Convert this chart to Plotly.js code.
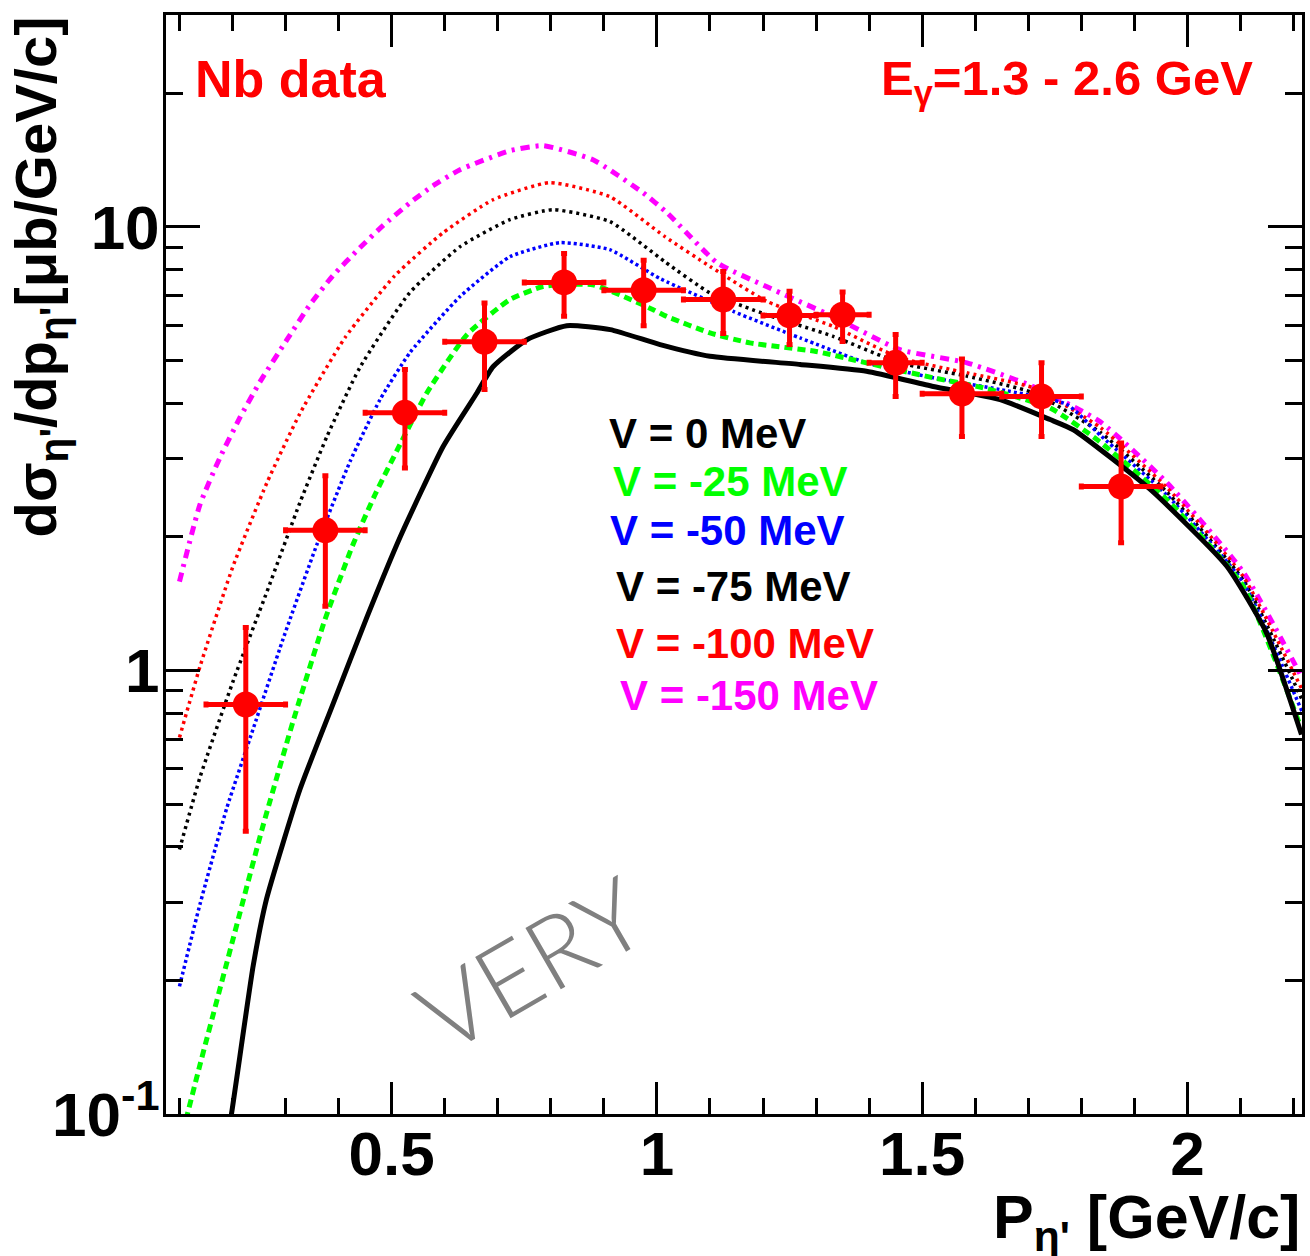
<!DOCTYPE html>
<html>
<head>
<meta charset="utf-8">
<script src="https://cdn.plot.ly/plotly-3.0.1.min.js"></script>
<style>html,body{margin:0;padding:0;background:#fff}</style>
</head>
<body>
<div id="plot" style="width:1310px;height:1256px"></div>
<script>
// eta' momentum distribution off Nb, E_gamma = 1.3 - 2.6 GeV
const pBinCenter    = [0.225, 0.375, 0.525, 0.675, 0.825, 0.975, 1.125, 1.25, 1.35, 1.45, 1.575, 1.725, 1.875];
const pBinHalfWidth = [0.075, 0.075, 0.075, 0.075, 0.075, 0.075, 0.075, 0.05, 0.05, 0.05, 0.075, 0.075, 0.075];
const dSigma        = [0.838, 2.07, 3.81, 5.51, 7.50, 7.20, 6.86, 6.32, 6.34, 4.94, 4.21, 4.15, 2.60];
const dSigmaHigh    = [1.25, 2.75, 4.77, 6.74, 8.71, 8.41, 7.94, 7.16, 7.14, 5.72, 5.04, 4.94, 3.26];
const dSigmaLow     = [0.434, 1.396, 2.86, 4.30, 6.29, 5.99, 5.75, 5.43, 5.52, 4.15, 3.37, 3.37, 1.94];

// model predictions for several real-part potential depths
const pV0   = [0.186, 0.198, 0.239, 0.264, 0.327, 0.389, 0.453, 0.516, 0.597, 0.661, 0.691, 0.755, 0.830, 0.912, 1.006, 1.10, 1.27, 1.395, 1.521, 1.647, 1.741, 1.785, 1.93, 2.074, 2.149, 2.215];
const sigV0 = [0.083, 0.10, 0.216, 0.305, 0.539, 0.838, 1.316, 2.00, 3.20, 4.23, 4.84, 5.57, 5.99, 5.87, 5.43, 5.11, 4.90, 4.73, 4.37, 4.08, 3.68, 3.49, 2.56, 1.72, 1.216, 0.717];

const pV25   = [0.10, 0.1386, 0.2008, 0.2555, 0.314, 0.3743, 0.4271, 0.4685, 0.5156, 0.5665, 0.642, 0.723, 0.785, 0.879, 0.993, 1.018, 1.10, 1.175, 1.30, 1.395, 1.521, 1.615, 1.741, 1.829, 1.961, 2.105, 2.213];
const sigV25 = [0.085, 0.129, 0.2475, 0.438, 0.767, 1.303, 1.923, 2.49, 3.23, 4.23, 5.72, 6.86, 7.34, 7.41, 6.51, 6.29, 5.77, 5.48, 5.24, 4.94, 4.57, 4.34, 3.91, 3.32, 2.43, 1.55, 0.749];

const pV50   = [0.10, 0.1386, 0.1895, 0.2385, 0.295, 0.359, 0.4215, 0.478, 0.5345, 0.629, 0.723, 0.817, 0.911, 1.006, 1.144, 1.27, 1.395, 1.521, 1.647, 1.773, 1.836, 1.962, 2.105, 2.216];
const sigV50 = [0.194, 0.297, 0.491, 0.736, 1.175, 1.923, 2.96, 4.08, 5.21, 6.97, 8.57, 9.22, 8.89, 7.65, 6.45, 5.62, 4.94, 4.57, 4.30, 3.98, 3.39, 2.48, 1.58, 0.808];

const pV75   = [0.10, 0.1386, 0.2008, 0.265, 0.327, 0.378, 0.44, 0.534, 0.629, 0.723, 0.804, 0.911, 1.015, 1.10, 1.207, 1.332, 1.458, 1.584, 1.709, 1.836, 1.962, 2.105, 2.216];
const sigV75 = [0.395, 0.574, 0.944, 1.507, 2.39, 3.37, 4.82, 7.11, 9.03, 10.39, 10.94, 10.29, 8.35, 7.10, 6.34, 5.67, 4.94, 4.61, 4.23, 3.44, 2.52, 1.60, 0.86];

const pV100   = [0.10, 0.1386, 0.2008, 0.265, 0.327, 0.412, 0.506, 0.597, 0.691, 0.798, 0.911, 1.015, 1.10, 1.207, 1.332, 1.458, 1.584, 1.709, 1.836, 1.962, 2.105, 2.216];
const sigV100 = [0.706, 1.02, 1.716, 2.653, 3.796, 5.63, 7.77, 9.71, 11.52, 12.59, 11.71, 9.51, 8.15, 6.80, 5.97, 5.07, 4.69, 4.34, 3.53, 2.58, 1.63, 0.906];

const pV150   = [0.10, 0.1386, 0.1763, 0.2141, 0.252, 0.3026, 0.346, 0.3893, 0.44, 0.4836, 0.5345, 0.5779, 0.6288, 0.7231, 0.7852, 0.8795, 0.9737, 1.019, 1.1132, 1.2075, 1.3319, 1.4582, 1.5845, 1.7089, 1.8352, 1.9615, 2.1047, 2.2159];
const sigV150 = [1.587, 2.366, 3.02, 3.72, 4.48, 5.57, 6.68, 7.77, 8.98, 10.07, 11.34, 12.39, 13.46, 14.86, 15.25, 14.18, 11.95, 10.77, 8.31, 7.33, 6.28, 5.29, 4.94, 4.37, 3.64, 2.65, 1.67, 0.964];

const legendLabels = ['V = 0 MeV', 'V = -25 MeV', 'V = -50 MeV', 'V = -75 MeV', 'V = -100 MeV', 'V = -150 MeV'];
const legendColors = ['#000000', '#00ff00', '#0000ff', '#000000', '#ff0000', '#ff00ff'];

// axis ticks
const xMajorTicks = [0.5, 1, 1.5, 2];
const xMinorTicks = [0.1, 0.2, 0.3, 0.4, 0.6, 0.7, 0.8, 0.9, 1.1, 1.2, 1.3, 1.4, 1.6, 1.7, 1.8, 1.9, 2.1, 2.2];
const yMajorTicks = [0.1, 1, 10];
const yMajorText  = ['10<sup>-1</sup>', '1', '10'];
const yMinorTicks = [0.2, 0.3, 0.4, 0.5, 0.6, 0.7, 0.8, 0.9, 2, 3, 4, 5, 6, 7, 8, 9, 20, 30];

const FONT = 'Liberation Sans, Arial, Helvetica, sans-serif';

function curve(x, y, color, width, dash) {
  return {
    x: x, y: y, type: 'scatter', mode: 'lines',
    line: {color: color, width: width, dash: dash, shape: 'spline', smoothing: 0.5},
    hoverinfo: 'skip', showlegend: false
  };
}

const traces = [
  curve(pV150, sigV150, '#ff00ff', 5, '9px,6px,3px,6px'),
  curve(pV100, sigV100, '#ff0000', 3.5, '3px,4px'),
  curve(pV75,  sigV75,  '#000000', 3.5, '3px,4px'),
  curve(pV50,  sigV50,  '#0000ff', 3.5, '3px,3px'),
  curve(pV25,  sigV25,  '#00ff00', 5, '8px,5px'),
  curve(pV0,   sigV0,   '#000000', 5, 'solid'),
  {
    x: pBinCenter, y: dSigma, type: 'scatter', mode: 'markers',
    marker: {symbol: 'circle', size: 26, color: '#ff0000', line: {width: 0}},
    error_x: {type: 'data', array: pBinHalfWidth, color: '#ff0000', thickness: 5, width: 3},
    error_y: {
      type: 'data', symmetric: false,
      array: dSigma.map((v, i) => dSigmaHigh[i] - v),
      arrayminus: dSigma.map((v, i) => v - dSigmaLow[i]),
      color: '#ff0000', thickness: 5, width: 3
    },
    showlegend: false
  }
];

// plot-area geometry in pixels (used to place text in paper coordinates)
const W = 1310, H = 1256, L = 166, R = 8, T = 15, B = 142;
const pw = W - L - R, ph = H - T - B;
const px = v => (v - L) / pw;
const py = v => (H - B - v) / ph;

const legendLeft = [607, 611, 608, 614, 614, 618];
const legendTop  = [408, 456, 505, 561, 618, 670];

const annotations = legendLabels.map((t, i) => ({
  text: t, xref: 'paper', yref: 'paper', x: px(legendLeft[i]), y: py(legendTop[i]),
  xanchor: 'left', yanchor: 'top', showarrow: false,
  font: {family: FONT, size: 42, color: legendColors[i], weight: 700}
}));

annotations.push(
  {text: 'Nb data', xref: 'paper', yref: 'paper', x: px(193), y: py(48),
   xanchor: 'left', yanchor: 'top', showarrow: false,
   font: {family: FONT, size: 52, color: '#ff0000', weight: 700}},
  {text: 'E<sub>γ</sub>=1.3 - 2.6 GeV', xref: 'paper', yref: 'paper', x: px(1255), y: py(49),
   xanchor: 'right', yanchor: 'top', showarrow: false,
   font: {family: FONT, size: 49, color: '#ff0000', weight: 700}},
  {text: 'P<sub>η\'</sub> [GeV/c]', xref: 'paper', yref: 'paper', x: 1.0, y: py(1181),
   xanchor: 'right', yanchor: 'top', showarrow: false,
   font: {family: FONT, size: 61, color: '#000000', weight: 700}},
  {text: 'dσ<sub>η\'</sub>/dp<sub>η\'</sub>[μb/GeV/c]', xref: 'paper', yref: 'paper',
   x: px(0), y: py(15), xanchor: 'left', yanchor: 'top', textangle: -90, showarrow: false,
   font: {family: FONT, size: 58, color: '#000000', weight: 700}},
  {text: 'VERY', xref: 'paper', yref: 'paper', x: px(530), y: py(962),
   xanchor: 'center', yanchor: 'middle', textangle: -30, showarrow: false,
   font: {family: 'Lato, Open Sans, sans-serif', size: 100, color: '#808080', weight: 300}}
);

const layout = {
  width: W, height: H,
  margin: {l: L, r: R, t: T, b: B, pad: 0},
  paper_bgcolor: '#ffffff', plot_bgcolor: '#ffffff',
  showlegend: false,
  xaxis: {
    type: 'linear', range: [0.0746, 2.216],
    showgrid: false, zeroline: false,
    showline: true, linecolor: '#000', linewidth: 3, mirror: 'ticks',
    ticks: 'inside', ticklen: 32, tickwidth: 3, tickcolor: '#000',
    tickmode: 'array', tickvals: xMajorTicks, ticklabelstandoff: -16,
    tickfont: {family: FONT, size: 62, color: '#000', weight: 700},
    minor: {tickmode: 'array', tickvals: xMinorTicks, ticks: 'inside', ticklen: 16, tickwidth: 3, tickcolor: '#000', showgrid: false}
  },
  yaxis: {
    type: 'log', range: [-1, 1.478],
    showgrid: false, zeroline: false,
    showline: true, linecolor: '#000', linewidth: 3, mirror: 'ticks',
    ticks: 'inside', ticklen: 34, tickwidth: 3, tickcolor: '#000',
    tickmode: 'array', tickvals: yMajorTicks, ticktext: yMajorText, ticklabelstandoff: -9,
    tickfont: {family: FONT, size: 62, color: '#000', weight: 700},
    minor: {tickmode: 'array', tickvals: yMinorTicks, ticks: 'inside', ticklen: 17, tickwidth: 3, tickcolor: '#000', showgrid: false}
  },
  annotations: annotations
};

Plotly.newPlot('plot', traces, layout, {staticPlot: true, displayModeBar: false});
</script>
</body>
</html>
